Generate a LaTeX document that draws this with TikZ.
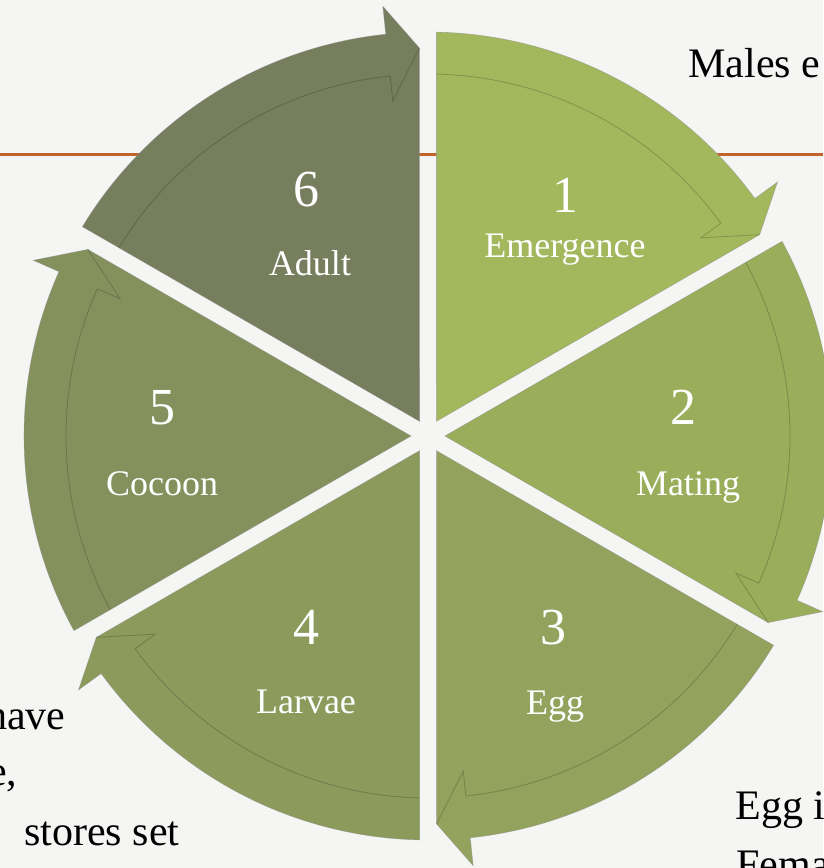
\documentclass[tikz,border=0pt]{standalone}
\usepackage{fontspec}
\setmainfont{Liberation Serif}
\usepackage{tikz}
\definecolor{bgpaper}{HTML}{F5F5F4}
\definecolor{rule}{HTML}{C2622D}
\definecolor{seg1}{HTML}{A3B75D}
\definecolor{seg2}{HTML}{99AD5B}
\definecolor{seg3}{HTML}{93A35D}
\definecolor{seg4}{HTML}{8C9A5C}
\definecolor{seg5}{HTML}{85915D}
\definecolor{seg6}{HTML}{767E5E}

\begin{document}
\begin{tikzpicture}[x=1pt, y=1pt,
      emboss/.style={draw=black, draw opacity=0.2, line width=0.8pt},
      segment/.pic={
        \fill[#1, draw=black!45, draw opacity=0.5, line width=0.6pt]
          (17,0) -- (28.8:404) arc[start angle=28.8, end angle=-24, radius=404]
          -- (-24:432) -- (-28.74:388) -- cycle;
        \draw[emboss] (28.65:362) arc[start angle=28.65, end angle=-24, radius=362]
          -- (-24:337) -- (-28.74:388);
      },
      num/.style={text=white, anchor=base, font=\fontsize{52}{52}\selectfont},
      lab/.style={text=white, anchor=base, font=\fontsize{36}{36}\selectfont},
      note/.style={text=black, font=\fontsize{42}{42}\selectfont}
    ]
      \useasboundingbox (0,0) rectangle (823,868);
      \fill[bgpaper] (0,0) rectangle (823,868);
      \draw[rule, line width=3pt] (0,713) -- (823,713);
      \coordinate (ctr) at (428,432);
      \pic[rotate=60]   at (ctr) {segment=seg1};
      \pic[rotate=0]    at (ctr) {segment=seg2};
      \pic[rotate=-60]  at (ctr) {segment=seg3};
      \pic[rotate=-120] at (ctr) {segment=seg4};
      \pic[rotate=180]  at (ctr) {segment=seg5};
      \pic[rotate=120]  at (ctr) {segment=seg6};
      \node[num] (num1) at (565,655) {1};
      \node[lab] (lab1) at (565,610) {Emergence};
      \node[num] (num2) at (683,443) {2};
      \node[lab] (lab2) at (688,372) {Mating};
      \node[num] (num3) at (553,223) {3};
      \node[lab] (lab3) at (555,153) {Egg};
      \node[num] (num4) at (306,223) {4};
      \node[lab] (lab4) at (306,154) {Larvae};
      \node[num] (num5) at (162,443) {5};
      \node[lab] (lab5) at (162,372) {Cocoon};
      \node[num] (num6) at (306,661) {6};
      \node[lab] (lab6) at (310,592) {Adult};
      \node[note, anchor=base west] (males) at (685,790) {Males e};
      \node[note, anchor=base east] (have)  at (69,138)  {have};
      \node[note, anchor=base east] (ecomma) at (21,82)  {e,};
      \node[note, anchor=base east] (stores) at (183,23) {stores set};
      \node[note, anchor=base west] (eggi)  at (732,48)  {Egg i};
      \node[note, anchor=base west] (fema)  at (733,-10) {Fema};
    \end{tikzpicture}
\end{document}
